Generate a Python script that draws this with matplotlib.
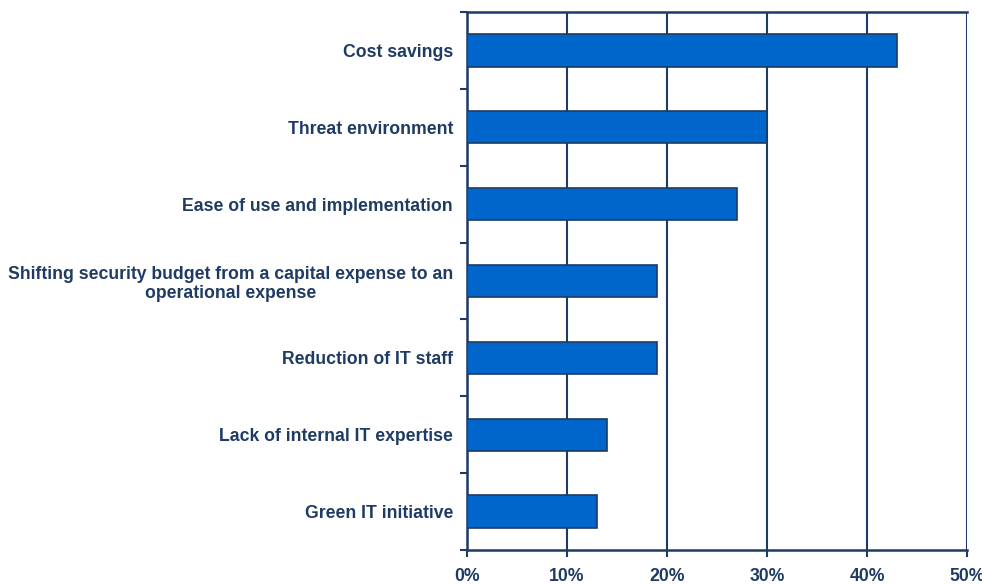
import matplotlib
matplotlib.use("Agg")
import matplotlib.pyplot as plt
import numpy as np

categories = [
    "Cost savings",
    "Threat environment",
    "Ease of use and implementation",
    "Shifting security budget from a capital expense to an\noperational expense",
    "Reduction of IT staff",
    "Lack of internal IT expertise",
    "Green IT initiative",
]
values = [43, 30, 27, 19, 19, 14, 13]
xticks = [0, 10, 20, 30, 40, 50]
xticklabels = ["0%", "10%", "20%", "30%", "40%", "50%"]

navy = "#1F3B63"
bar_color = "#0066CC"

plt.rcParams['font.family'] = ['Liberation Sans', 'DejaVu Sans']

fig = plt.figure(figsize=(9.82, 5.85), dpi=100)
ax = fig.add_axes([467/982, 1 - 550/585, 500/982, 538/585])

y = np.arange(len(categories))
ax.barh(y, values, height=0.42, color=bar_color, edgecolor=navy, linewidth=1.2, zorder=3)

ax.set_xlim(0, 50)
ax.set_ylim(len(categories) - 0.5, -0.5)

ax.set_xticks(xticks)
ax.set_xticklabels(xticklabels, fontsize=12.7, fontweight='bold', color=navy)
ax.tick_params(axis='x', direction='out', length=5, width=1.5, color=navy, pad=8)

ax.set_yticks(y)
labels = ax.set_yticklabels(categories, fontsize=12.7, fontweight='bold', color=navy)
for lab in labels:
    lab.set_multialignment('center')
    lab.set_linespacing(1.15)
ax.tick_params(axis='y', which='major', length=0, pad=10)
ax.set_yticks(np.arange(-0.5, len(categories), 1.0), minor=True)
ax.tick_params(axis='y', which='minor', direction='out', length=5, width=1.5, color=navy)

ax.grid(axis='x', color=navy, linewidth=1.5, zorder=0)
ax.set_axisbelow(True)

for side in ['left', 'bottom', 'top']:
    ax.spines[side].set_color(navy)
    ax.spines[side].set_linewidth(1.8)
ax.spines['right'].set_visible(False)

fig.savefig("out.png", dpi=100, facecolor='white')
